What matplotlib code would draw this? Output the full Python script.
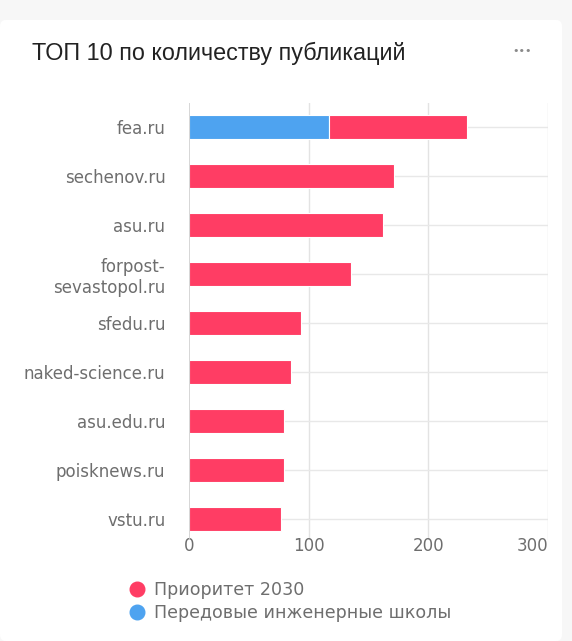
import numpy as np
import matplotlib
matplotlib.use("Agg")
import matplotlib.pyplot as plt
from matplotlib.lines import Line2D
from matplotlib.patches import FancyBboxPatch

# ── Data ─────────────────────────────────────────────────────────
sites = ["fea.ru", "sechenov.ru", "asu.ru", "forpost-\nsevastopol.ru", "sfedu.ru",
         "naked-science.ru", "asu.edu.ru", "poisknews.ru", "vstu.ru"]
schools = [117, 0, 0, 0, 0, 0, 0, 0, 0]          # Передовые инженерные школы
priority = [115, 171, 162, 135, 94, 85, 79, 79, 77]  # Приоритет 2030
x_ticks = [0, 100, 200, 300]

RED = "#ff3d64"
BLUE = "#4ea3f0"
GREY_TXT = "#6e6e6e"

plt.rcParams["font.family"] = "DejaVu Sans"

W, H = 572, 641
fig = plt.figure(figsize=(W / 100, H / 100), dpi=100)
fig.patch.set_facecolor("#f7f7f7")
card = FancyBboxPatch((0, 0), 562 / W, 621 / H, boxstyle="round,pad=0,rounding_size=0.01",
                      transform=fig.transFigure, facecolor="white", edgecolor="none", zorder=0)
fig.add_artist(card)

# axes placed in pixel terms
ax_left, ax_right, ax_top, ax_bot = 189, 548, 103, 540
ax = fig.add_axes([ax_left / W, 1 - ax_bot / H, (ax_right - ax_left) / W, (ax_bot - ax_top) / H])
ax.set_facecolor("none")

y = np.arange(len(sites))
ax.barh(y, schools, height=0.48, color=BLUE, edgecolor="white", linewidth=0.8, zorder=3)
ax.barh(y, priority, left=schools, height=0.48, color=RED, edgecolor="white", linewidth=0.8, zorder=3)

ax.set_xlim(0, 300)
ax.set_ylim(8.43, -0.49)
ax.set_yticks(y)
ax.set_yticklabels(sites, ha="right", fontsize=12, color=GREY_TXT, linespacing=1.2)
ax.set_xticks(x_ticks)
ax.set_xticklabels([str(t) for t in x_ticks], fontsize=12, color=GREY_TXT)
ax.get_xticklabels()[-1].set_horizontalalignment("right")
ax.tick_params(axis="both", length=0)
ax.tick_params(axis="y", pad=17)
ax.tick_params(axis="x", pad=-2)

for t in x_ticks[1:]:
    ax.axvline(t, color="#e3e3e3", linewidth=1, zorder=1)
for yi in y:
    ax.axhline(yi, color="#e8e8e8", linewidth=1, zorder=1)
ax.axvline(0, color="#cfcfcf", linewidth=1.2, zorder=4)
for s in ax.spines.values():
    s.set_visible(False)

# title and menu dots
fig.text(32 / W, 1 - 53 / H, "ТОП 10 по количеству публикаций", fontsize=16.8,
         family="Liberation Sans", color="#222222", va="center", ha="left")
fig.text(522 / W, 1 - 51 / H, "•••", fontsize=8, color="#8a8a8a", va="center", ha="center")

# legend
handles = [Line2D([], [], marker="o", linestyle="none", markersize=10.5, color=RED),
           Line2D([], [], marker="o", linestyle="none", markersize=10.5, color=BLUE)]
fig.legend(handles, ["Приоритет 2030", "Передовые инженерные школы"],
           loc="upper left", bbox_to_anchor=(128 / W, 1 - 581 / H), frameon=False,
           fontsize=12.6, labelcolor=GREY_TXT, handletextpad=0.5, labelspacing=0.3,
           borderpad=0, borderaxespad=0, handlelength=1.0)

fig.savefig("out.png", dpi=100, facecolor=fig.get_facecolor())
